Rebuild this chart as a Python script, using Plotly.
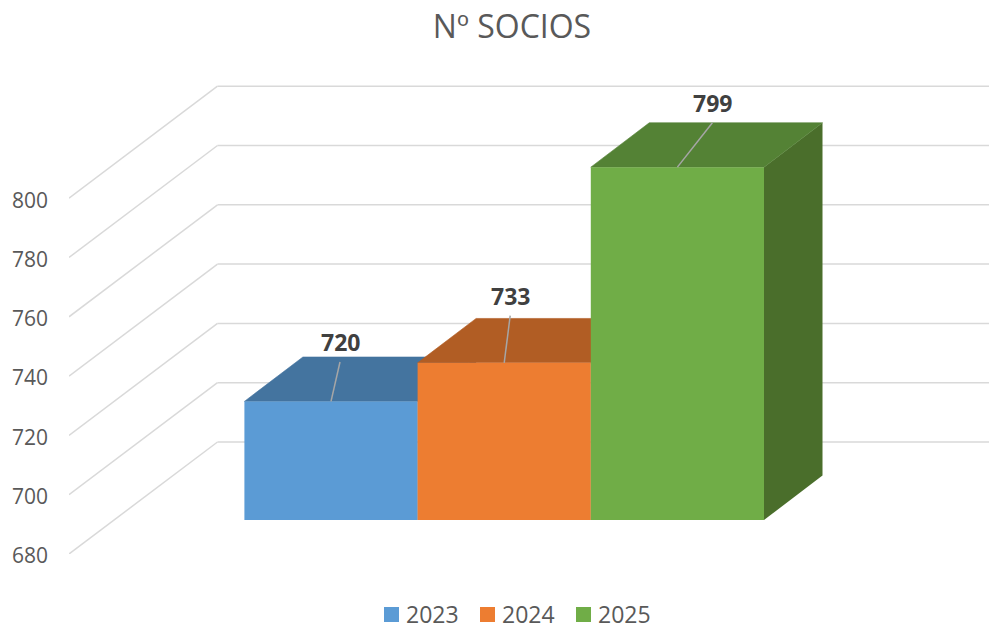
import plotly.graph_objects as go

# --- data ---
years = ["2023", "2024", "2025"]
socios = [720, 733, 799]
y_ticks = [680, 700, 720, 740, 760, 780, 800]

# --- colours ---
front_colors = ["#5B9BD5", "#ED7D31", "#70AD47"]
top_colors = ["#44749F", "#B15D24", "#548235"]
side_colors = ["#376092", "#984807", "#4A6E2B"]
grid_color = "#D9D9D9"

# --- layout: pixel frame and the oblique projection in axis units ---
W, H = 989, 626
L, R, T, B = 69, 0, 80, 72
PX_PER_UNIT = 2.965
PX_PER_BAR = 173.2
CENTER0 = 331.0                       # pixel x of the first bar's centre
Y0 = y_ticks[0]
WALL_DX, WALL_DY = 148.5 / PX_PER_BAR, 112.0 / PX_PER_UNIT   # floor depth
BAR_DX, BAR_DY = 58.5 / PX_PER_BAR, 44.4 / PX_PER_UNIT       # bar depth
FRONT_LIFT = 34.0 / PX_PER_UNIT       # bars stand this far into the floor
leader_dx = [9 / PX_PER_BAR, 6 / PX_PER_BAR, 35 / PX_PER_BAR]
leader_dy = [13.3, 15.9, 15.0]

x_range = [(L - CENTER0) / PX_PER_BAR, (W - R - CENTER0) / PX_PER_BAR]
y_range = [Y0, Y0 + (H - T - B) / PX_PER_UNIT]
plot_w, plot_h = W - L - R, H - T - B


def px_x(p):
    return (p - L) / plot_w


def px_y(p):
    return (H - B - p) / plot_h


fig = go.Figure()


def poly(xs, ys, color, edge=0.0):
    fig.add_trace(go.Scatter(
        x=xs, y=ys, mode="lines", fill="toself", fillcolor=color,
        line=dict(width=edge, color=color), showlegend=False, hoverinfo="skip",
    ))


# boxes, painted back to front from left to right
base = Y0 + FRONT_LIFT
for i, v in enumerate(socios):
    t = v + FRONT_LIFT
    x0, x1 = i - 0.5, i + 0.5
    poly([x1, x1 + BAR_DX, x1 + BAR_DX, x1, x1],
         [t, t + BAR_DY, base + BAR_DY, base, t], side_colors[i])
    poly([x0, x0 + BAR_DX, x1 + BAR_DX, x1, x0],
         [t, t + BAR_DY, t + BAR_DY, t, t], top_colors[i], edge=0.6)
    poly([x0, x1, x1, x0, x0], [base, base, t, t, base], front_colors[i])

# leader lines and value labels
annotations = []
for i, v in enumerate(socios):
    t = v + FRONT_LIFT
    ex, ey = i + leader_dx[i], t + leader_dy[i]
    fig.add_trace(go.Scatter(
        x=[i, ex], y=[t, ey], mode="lines",
        line=dict(color="#A6A6A6", width=1.5),
        showlegend=False, hoverinfo="skip",
    ))
    annotations.append(dict(
        x=ex, y=ey, xref="x", yref="y", text=f"<b>{v}</b>", showarrow=False,
        xanchor="center", yanchor="middle", yshift=20,
        font=dict(family="Open Sans", size=23, color="#404040"),
    ))

# floor and back-wall gridlines, behind the bars
shapes = []
for tv in y_ticks:
    for xa, ya, xb, yb in [
        (x_range[0], tv, x_range[0] + WALL_DX, tv + WALL_DY),
        (x_range[0] + WALL_DX, tv + WALL_DY, x_range[1], tv + WALL_DY),
    ]:
        shapes.append(dict(
            type="line", xref="x", yref="y", x0=xa, y0=ya, x1=xb, y1=yb,
            line=dict(color=grid_color, width=1.5), layer="below",
        ))

# legend: 15 px squares with the year beside each
legend_left = [384, 480, 576]
for yr, c, lx in zip(years, front_colors, legend_left):
    shapes.append(dict(
        type="rect", xref="paper", yref="paper",
        x0=px_x(lx), x1=px_x(lx + 15), y0=px_y(622), y1=px_y(607),
        fillcolor=c, line=dict(width=0), layer="above",
    ))
    annotations.append(dict(
        x=px_x(lx + 20), y=px_y(614), xref="paper", yref="paper", text=yr,
        showarrow=False, xanchor="left", yanchor="middle",
        font=dict(family="Open Sans", size=23, color="#595959"),
    ))

fig.update_layout(
    width=W, height=H,
    margin=dict(l=L, r=R, t=T, b=B, autoexpand=False),
    paper_bgcolor="white", plot_bgcolor="white",
    showlegend=False,
    font=dict(family="Open Sans", color="#595959"),
    title=dict(
        text="Nº SOCIOS", x=512 / W, xanchor="center", xref="container",
        y=1 - 27 / H, yanchor="middle", yref="container",
        font=dict(family="Open Sans", size=32, color="#595959"),
    ),
    xaxis=dict(range=x_range, visible=False, fixedrange=True),
    yaxis=dict(
        range=y_range, tickmode="array", tickvals=y_ticks,
        ticktext=[str(t) for t in y_ticks], showgrid=False, zeroline=False,
        showline=False, ticks="", ticklabelstandoff=20, ticklabelshift=2,
        tickfont=dict(family="Open Sans", size=21, color="#595959"),
        fixedrange=True,
    ),
    shapes=shapes,
    annotations=annotations,
)

fig.write_html("out.html", config={"displayModeBar": False},
               post_script="document.body.style.margin='0';")
